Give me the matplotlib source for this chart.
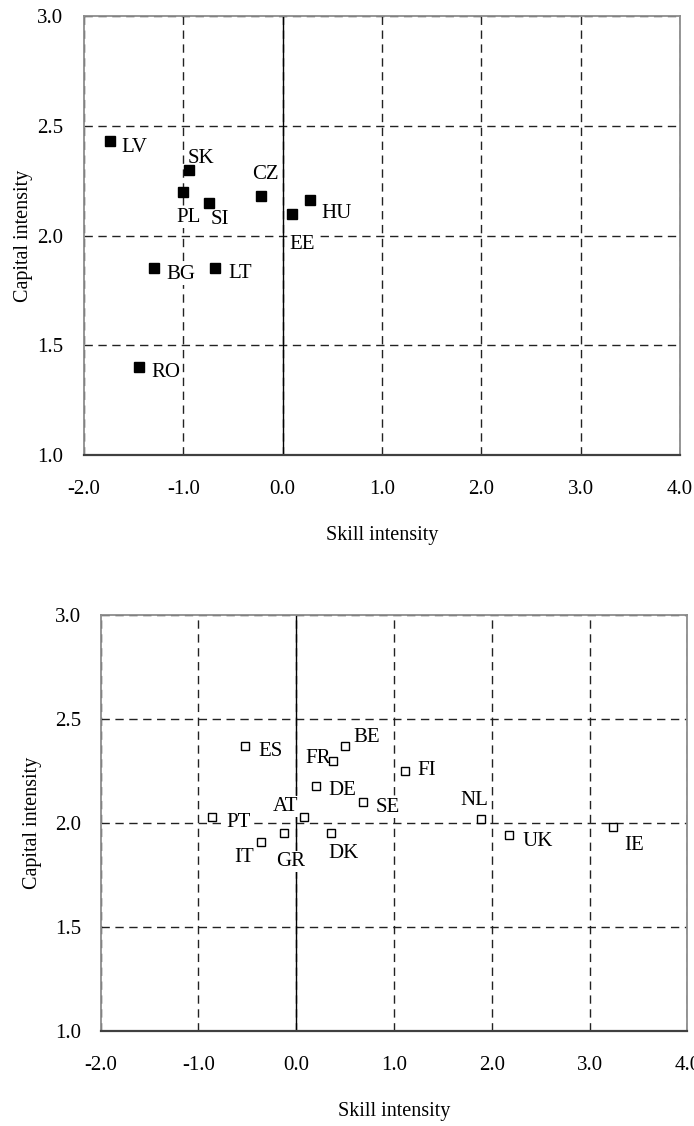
import matplotlib
matplotlib.use("Agg")
import matplotlib.pyplot as plt

plt.rcParams['font.family'] = ['Liberation Serif', 'DejaVu Serif']

# new member states (top panel)
top_countries = ["LV", "SK", "PL", "SI", "CZ", "HU", "EE", "BG", "LT", "RO"]
top_skill = [-1.74, -0.94, -1.00, -0.74, -0.22, 0.28, 0.09, -1.30, -0.68, -1.45]
top_capital = [2.43, 2.30, 2.20, 2.15, 2.18, 2.16, 2.10, 1.85, 1.85, 1.40]

# old member states (bottom panel)
bottom_countries = ["ES", "FR", "BE", "DE", "AT", "PT", "GR", "IT", "DK",
                    "FI", "SE", "NL", "UK", "IE"]
bottom_skill = [-0.52, 0.38, 0.50, 0.20, 0.08, -0.86, -0.13, -0.36, 0.36,
                1.11, 0.68, 1.89, 2.18, 3.24]
bottom_capital = [2.37, 2.30, 2.37, 2.18, 2.03, 2.03, 1.95, 1.91, 1.95,
                  2.25, 2.10, 2.02, 1.94, 1.98]

x_ticks = [-2.0, -1.0, 0.0, 1.0, 2.0, 3.0, 4.0]
y_ticks = [1.0, 1.5, 2.0, 2.5, 3.0]

# label offsets in pixels (dx, dy, ha)
top_offsets = {
    "LV": (12, -11, 'left'), "SK": (-2, 7, 'left'), "PL": (-7, -30, 'left'),
    "SI": (1, -21, 'left'), "CZ": (-9, 17, 'left'), "HU": (11, -18, 'left'),
    "EE": (-2, -35, 'left'), "BG": (13, -11, 'left'), "LT": (13, -10, 'left'),
    "RO": (13, -10, 'left'),
}
bottom_offsets = {
    "ES": (13, -10, 'left'), "FR": (-3, -2, 'right'), "BE": (8, 4, 'left'),
    "DE": (13, -9, 'left'), "AT": (-6, 6, 'right'), "PT": (14, -10, 'left'),
    "GR": (-7, -33, 'left'), "IT": (-7, -20, 'right'), "DK": (-3, -25, 'left'),
    "FI": (13, -4, 'left'), "SE": (13, -10, 'left'), "NL": (-21, 14, 'left'),
    "UK": (13, -11, 'left'), "IE": (11, -23, 'left'),
}


def style_axes(ax, ypad, xlabel_y, ylabel_x):
    ax.set_xlim(-2, 4)
    ax.set_ylim(1, 3)
    ax.set_xticks(x_ticks)
    ax.set_yticks(y_ticks)
    ax.set_xticklabels([f"{v:.1f}" for v in x_ticks])
    ax.set_yticklabels([f"{v:.1f}" for v in y_ticks])
    ax.tick_params(axis='x', length=0, pad=18, labelsize=15)
    ax.tick_params(axis='y', length=0, pad=ypad, labelsize=15)
    ax.set_axisbelow(True)
    ax.grid(True, color='#222222', linestyle=(0, (6, 4)), linewidth=1)
    ax.axvline(0, color='black', linewidth=1, zorder=1.5)
    for side in ['top', 'right', 'left']:
        ax.spines[side].set_color('#8c8c8c')
        ax.spines[side].set_linewidth(1.3)
    ax.spines['bottom'].set_color('#404040')
    ax.spines['bottom'].set_linewidth(1.6)
    ax.set_xlabel("Skill intensity", fontsize=14.5)
    ax.set_ylabel("Capital intensity", fontsize=14.5)
    ax.xaxis.set_label_coords(0.5, xlabel_y)
    ax.xaxis.label.set_va('top')
    ax.yaxis.set_label_coords(ylabel_x, 0.5)


def add_labels(ax, names, xs, ys, offsets):
    for name, x, y in zip(names, xs, ys):
        dx, dy, ha = offsets[name]
        ax.annotate(name, (x, y), xytext=(dx, dy), textcoords='offset pixels',
                    ha=ha, va='baseline', fontsize=15, zorder=4,
                    bbox=dict(boxstyle='square,pad=0.05', fc='white', ec='none'))


fig = plt.figure(figsize=(6.94, 11.26), dpi=100)

ax1 = fig.add_axes([0.1210, 0.5959, 0.8588, 0.3899])
style_axes(ax1, ypad=15, xlabel_y=-0.162, ylabel_x=-0.086)
ax1.plot(top_skill, top_capital, 's', color='black', markersize=7, zorder=5)
add_labels(ax1, top_countries, top_skill, top_capital, top_offsets)

ax2 = fig.add_axes([0.1451, 0.0844, 0.8453, 0.3694])
style_axes(ax2, ypad=14, xlabel_y=-0.171, ylabel_x=-0.100)
ax2.plot(bottom_skill, bottom_capital, 's', markerfacecolor='white',
         markeredgecolor='black', markeredgewidth=1, markersize=6.3, zorder=5)
add_labels(ax2, bottom_countries, bottom_skill, bottom_capital, bottom_offsets)

fig.savefig("out.png", dpi=100)
